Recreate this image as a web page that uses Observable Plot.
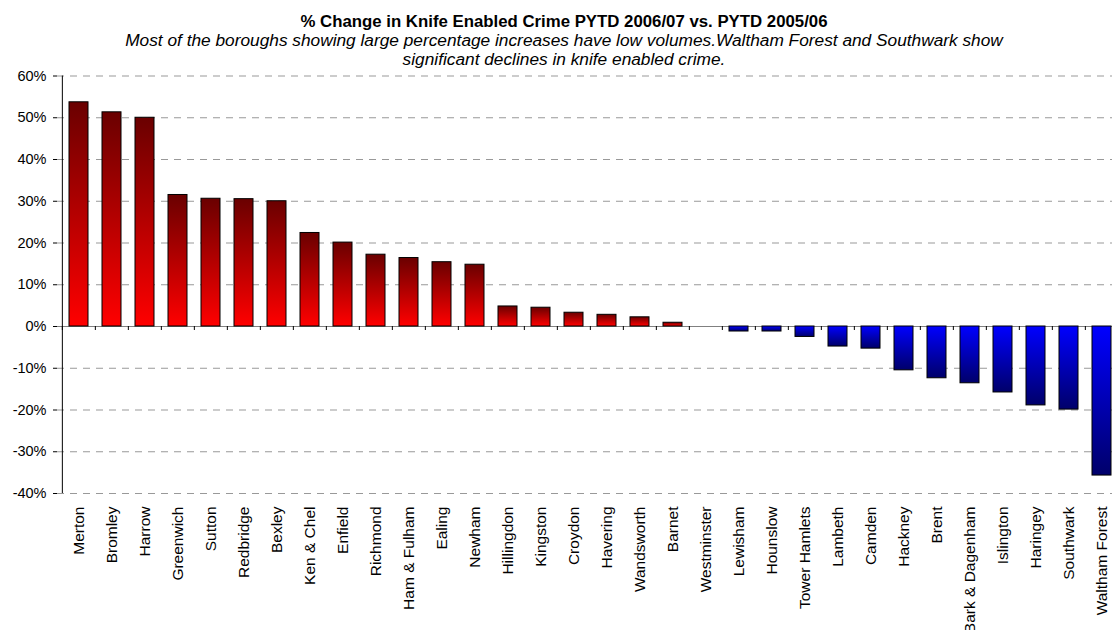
<!DOCTYPE html>
<html>
<head>
<meta charset="utf-8">
<script src="https://cdn.jsdelivr.net/npm/d3@7"></script>
<script src="https://cdn.jsdelivr.net/npm/@observablehq/plot@0.6"></script>
<style>
  html, body { margin: 0; padding: 0; background: #fff; overflow: hidden; }
  #chart { width: 1112px; height: 630px; overflow: hidden; position: relative; }
  #chart svg { display: block; max-width: none !important; }
</style>
</head>
<body>
<div id="chart"></div>
<script>
const titleText = "% Change in Knife Enabled Crime PYTD 2006/07 vs. PYTD 2005/06";
const subtitleLines = [
  "Most of the boroughs showing large percentage increases have low volumes.Waltham Forest and Southwark show",
  "significant declines in knife enabled crime."
];

const boroughs = [
  "Merton", "Bromley", "Harrow", "Greenwich", "Sutton", "Redbridge", "Bexley",
  "Ken & Chel", "Enfield", "Richmond", "Ham & Fulham", "Ealing", "Newham",
  "Hillingdon", "Kingston", "Croydon", "Havering", "Wandsworth", "Barnet",
  "Westminster", "Lewisham", "Hounslow", "Tower Hamlets", "Lambeth", "Camden",
  "Hackney", "Brent", "Bark & Dagenham", "Islington", "Haringey", "Southwark",
  "Waltham Forest"
];

const pctChange = [
  53.7, 51.3, 50.0, 31.5, 30.6, 30.5, 30.0,
  22.4, 20.1, 17.2, 16.4, 15.4, 14.8,
  4.8, 4.5, 3.3, 2.8, 2.2, 0.9,
  0.0, -1.2, -1.2, -2.5, -4.8, -5.3,
  -10.5, -12.4, -13.6, -15.8, -18.9, -19.9,
  -35.7
];

const yTicks = [-40, -30, -20, -10, 0, 10, 20, 30, 40, 50, 60];

const data = boroughs.map((name, i) => ({name, value: pctChange[i]}));

const W = 1125, ML = 57, MR = 2, MT = 75.5, MB = 137, H = 630;
const step = (W - ML - MR) / boroughs.length;
const font = "'Liberation Sans', Arial, Helvetica, sans-serif";

const chart = Plot.plot({
  width: W,
  height: H,
  marginLeft: ML,
  marginRight: MR,
  marginTop: MT,
  marginBottom: MB,
  style: {fontFamily: font, color: "#000", background: "#fff", overflow: "visible", maxWidth: "none"},
  x: {domain: boroughs, paddingInner: 0.43, paddingOuter: 0.215, label: null},
  y: {domain: [-40, 60], label: null},
  marks: [
    Plot.gridY(yTicks, {stroke: "#999", strokeOpacity: 1, strokeDasharray: "7,6", strokeWidth: 1}),
    Plot.ruleY([0], {stroke: "#808080", strokeWidth: 1.2}),
    Plot.ruleX(boroughs, {x: d => d, dx: -step / 2, y1: 0, y2: 0, insetBottom: -4, stroke: "#000", strokeWidth: 1}),
    Plot.barY(data.filter(d => d.value > 0), {x: "name", y: "value", fill: "url(#gradRed)", stroke: "#000", strokeWidth: 1}),
    Plot.barY(data.filter(d => d.value < 0), {x: "name", y: "value", fill: "url(#gradBlue)", stroke: "#000", strokeWidth: 1}),
    Plot.ruleX([boroughs[0]], {dx: -step / 2, y1: -40, y2: 60, stroke: "#000", strokeWidth: 1}),
    Plot.axisY({ticks: yTicks, tickSize: 4, tickPadding: 7, tickFormat: d => d + "%", fontSize: 14.5, label: null}),
    Plot.axisX({tickSize: 0, tickPadding: 13, tickRotate: -90, fontSize: 15.5, label: null})
  ]
});

const svg = d3.select(chart);
const defs = svg.insert("defs", ":first-child");
const red = defs.append("linearGradient").attr("id", "gradRed").attr("x1", 0).attr("y1", 0).attr("x2", 0).attr("y2", 1);
red.append("stop").attr("offset", "0%").attr("stop-color", "#6a0000");
red.append("stop").attr("offset", "100%").attr("stop-color", "#ff0000");
const blue = defs.append("linearGradient").attr("id", "gradBlue").attr("x1", 0).attr("y1", 0).attr("x2", 0).attr("y2", 1);
blue.append("stop").attr("offset", "0%").attr("stop-color", "#0000ff");
blue.append("stop").attr("offset", "100%").attr("stop-color", "#00006a");

svg.append("text")
  .attr("x", 564).attr("y", 26.5)
  .attr("text-anchor", "middle")
  .style("font-family", font).style("font-size", "16.8px").style("font-weight", "bold")
  .attr("fill", "#000")
  .text(titleText);
subtitleLines.forEach((line, i) => {
  svg.append("text")
    .attr("x", 564).attr("y", 46 + i * 19)
    .attr("text-anchor", "middle")
    .style("font-family", font).style("font-size", "17.3px").style("font-style", "italic")
    .attr("fill", "#000")
    .text(line);
});

document.getElementById("chart").appendChild(chart);
</script>
</body>
</html>
